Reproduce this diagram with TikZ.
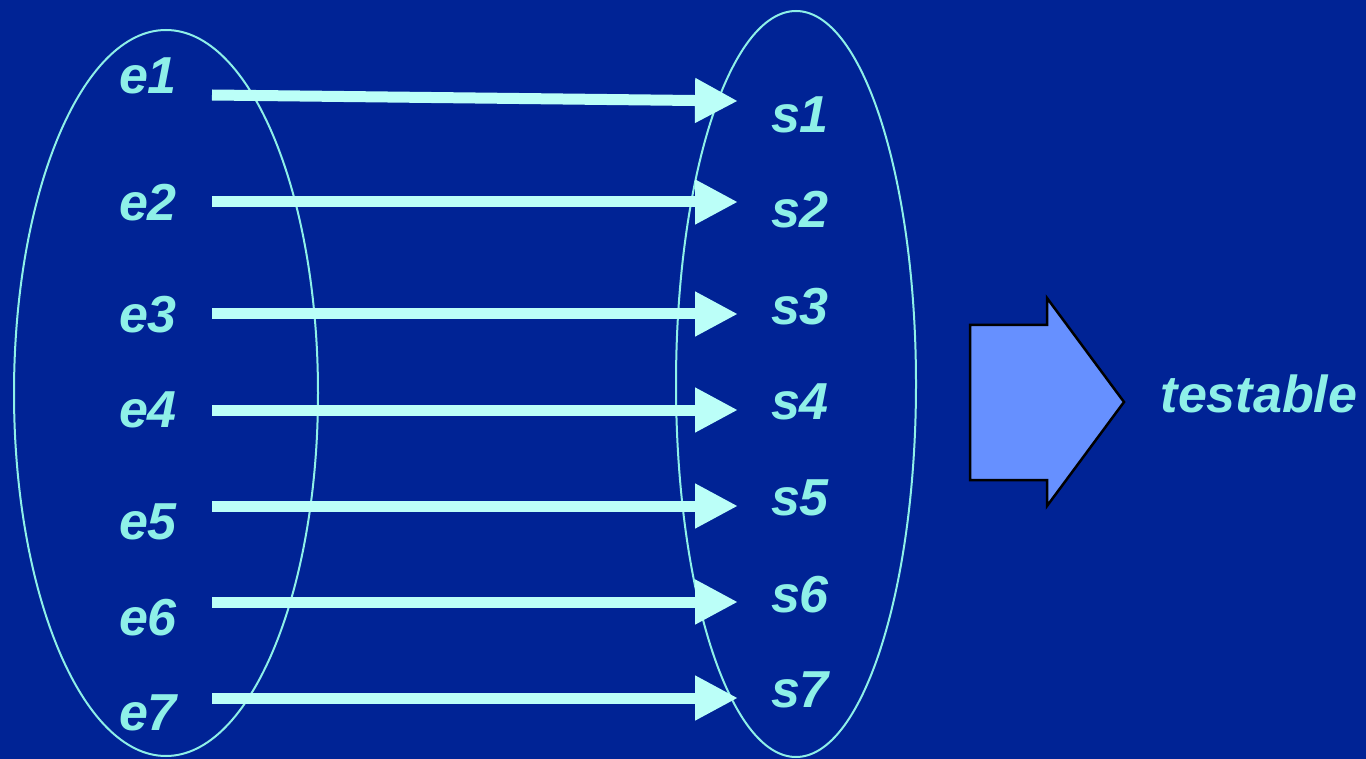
\documentclass[tikz,border=0pt]{standalone}
\usepackage{fontspec}
\setmainfont{Liberation Sans}
\usetikzlibrary{arrows.meta}
\definecolor{bg}{HTML}{002395}
\definecolor{aqua}{HTML}{8EF0E8}
\definecolor{pale}{HTML}{BBFFF8}
\definecolor{blockfill}{HTML}{6690FF}
\tikzset{
  lbl/.style={text=aqua, font=\fontsize{52}{60}\selectfont\bfseries\itshape, inner sep=0pt},
  setline/.style={draw=aqua, line width=2pt},
  maparrow/.style={draw=pale, line width=11pt, -{Triangle[length=43pt,width=42pt]}},
  block/.style={fill=blockfill, draw=black, line width=2.5pt, line join=miter}
}
\begin{document}
\begin{tikzpicture}[x=1pt,y=-1pt]
\useasboundingbox (0,0) rectangle (1366,759);
\fill[bg] (0,0) rectangle (1366,759);

% the two sets
\draw[setline] (166,393) ellipse [x radius=152, y radius=363];
\draw[setline] (796,384) ellipse [x radius=120, y radius=373];

% labels of the left set
\node[lbl] (e1) at (148,76) {e1};
\node[lbl] (e2) at (148,203) {e2};
\node[lbl] (e3) at (148,315) {e3};
\node[lbl] (e4) at (148,410) {e4};
\node[lbl] (e5) at (148,522) {e5};
\node[lbl] (e6) at (148,618) {e6};
\node[lbl] (e7) at (148,713) {e7};

% labels of the right set
\node[lbl] (s1) at (800,115) {s1};
\node[lbl] (s2) at (800,210) {s2};
\node[lbl] (s3) at (800,307) {s3};
\node[lbl] (s4) at (800,402) {s4};
\node[lbl] (s5) at (800,498) {s5};
\node[lbl] (s6) at (800,595) {s6};
\node[lbl] (s7) at (800,690) {s7};

% arrow ends
\coordinate (f1) at (212,95);  \coordinate (t1) at (738,101);
\coordinate (f2) at (212,202); \coordinate (t2) at (738,202);
\coordinate (f3) at (212,314); \coordinate (t3) at (738,314);
\coordinate (f4) at (212,410); \coordinate (t4) at (738,410);
\coordinate (f5) at (212,506); \coordinate (t5) at (738,506);
\coordinate (f6) at (212,602); \coordinate (t6) at (738,602);
\coordinate (f7) at (212,698); \coordinate (t7) at (738,698);

\foreach \i in {1,...,7}
  \draw[maparrow] (f\i) -- (t\i);

% block arrow
\draw[block] (970,325) -- (1047,325) -- (1047,298) -- (1124,402)
  -- (1047,506) -- (1047,480) -- (970,480) -- cycle;

\node[lbl] (res) at (1259,394) {testable};
\end{tikzpicture}
\end{document}
